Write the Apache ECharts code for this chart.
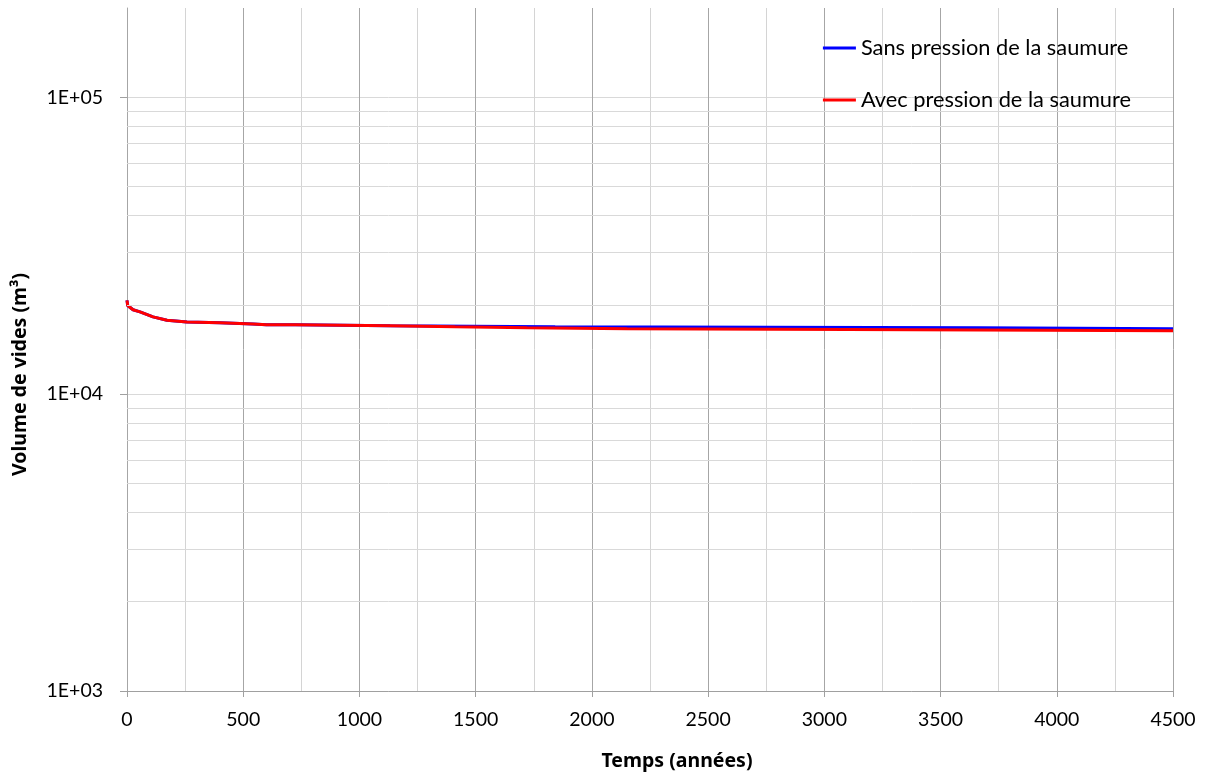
<!DOCTYPE html>
<html>
<head>
<meta charset="utf-8">
<script src="https://cdn.jsdelivr.net/npm/echarts@6/dist/echarts.min.js"></script>
<style>
  html, body { margin: 0; padding: 0; background: #fff; }
  #chart { width: 1205px; height: 776px; }
</style>
</head>
<body>
<div id="chart"></div>
<script>
// Void volume over time, with and without brine pressure
const seriesNames = ['Sans pression de la saumure', 'Avec pression de la saumure'];

// [time (years), volume (m3)]
const sansPression = [
  [0, 20700], [3, 19900], [26, 19250], [56, 18930], [112, 18210], [172, 17750],
  [258, 17520], [400, 17390], [542, 17250], [600, 17140], [723, 17140],
  [723, 17010], [1132, 17010], [1132, 16880], [1842, 16880],
  [1842, 16750], [3666, 16750], [3666, 16620], [4500, 16620]
];
const avecPression = [
  [0, 20700], [3, 19900], [26, 19250], [56, 18930], [112, 18210], [172, 17750],
  [258, 17520], [400, 17390], [542, 17250], [600, 17140], [723, 17140],
  [723, 17010], [1132, 17010], [1132, 16880], [1411, 16880],
  [1411, 16750], [1721, 16750], [1721, 16620], [2151, 16620],
  [2151, 16500], [3098, 16500], [3098, 16370], [4500, 16370]
];

// Log-axis ticks
const decadeTicks = [1000, 10000, 100000];
const minorLogLines = [2000, 3000, 4000, 5000, 6000, 7000, 8000, 9000,
                       20000, 30000, 40000, 50000, 60000, 70000, 80000, 90000];

const FONT = 'Lato';
const TITLE_FONT = 'Noto Sans';
const chart = echarts.init(document.getElementById('chart'));

chart.setOption({
  animation: false,
  backgroundColor: '#ffffff',
  grid: { left: 127, right: 32, top: 8, bottom: 85, containLabel: false, outerBoundsMode: 'none' },
  legend: {
    orient: 'vertical',
    right: 69,
    top: 32,
    itemWidth: 33,
    itemHeight: 3,
    itemGap: 30,
    itemStyle: { borderWidth: 0 },
    icon: 'rect',
    textStyle: { fontFamily: FONT, fontSize: 21.8, color: '#000', padding: [0, 0, 0, 0] },
    data: seriesNames
  },
  xAxis: {
    type: 'value',
    min: 0,
    max: 4500,
    interval: 500,
    name: 'Temps (années)',
    nameLocation: 'middle',
    nameGap: 60,
    nameTextStyle: { fontFamily: TITLE_FONT, fontSize: 19.5, fontWeight: 'bold', color: '#000', padding: [0, 0, 0, 54] },
    axisLine: { show: true, lineStyle: { color: '#a0a0a0', width: 1 } },
    axisTick: { show: true, length: 6, lineStyle: { color: '#a0a0a0' } },
    axisLabel: { fontFamily: FONT, fontSize: 19.5, color: '#000', margin: 19, formatter: v => String(v) },
    splitLine: { show: true, lineStyle: { color: '#a6a6a6', width: 1 } },
    minorTick: { show: false, splitNumber: 2 },
    minorSplitLine: { show: true, lineStyle: { color: '#d4d4d4', width: 1 } }
  },
  yAxis: {
    type: 'log',
    logBase: 10,
    min: 1000,
    max: 200000,
    name: 'Volume de vides (m³)',
    nameLocation: 'middle',
    nameGap: 97,
    nameRotate: 90,
    nameTextStyle: { fontFamily: TITLE_FONT, fontSize: 19.5, fontWeight: 'bold', color: '#000', padding: [0, 50, 0, 0] },
    axisLine: { show: true, lineStyle: { color: '#a6a6a6', width: 1 } },
    axisTick: { show: true, length: 7, customValues: decadeTicks, lineStyle: { color: '#a0a0a0' } },
    axisLabel: {
      fontFamily: FONT, fontSize: 19.5, color: '#000', margin: 24,
      customValues: decadeTicks,
      formatter: v => '1E+0' + Math.round(Math.log10(v))
    },
    splitLine: { show: true, lineStyle: { color: '#d9d9d9', width: 1 } }
  },
  series: [
    {
      name: seriesNames[0],
      type: 'line',
      data: sansPression,
      showSymbol: false,
      symbol: 'none',
      color: '#0000ff',
      lineStyle: { color: '#0000ff', width: 3 },
      z: 3,
      markLine: {
        silent: true,
        symbol: ['none', 'none'],
        label: { show: false },
        animation: false,
        lineStyle: { color: '#d9d9d9', width: 1, type: 'solid' },
        data: minorLogLines.map(v => ({ yAxis: v }))
      }
    },
    {
      name: seriesNames[1],
      type: 'line',
      data: avecPression,
      showSymbol: false,
      symbol: 'none',
      color: '#ff0000',
      lineStyle: { color: '#ff0000', width: 3 },
      z: 4
    }
  ]
});
</script>
</body>
</html>
